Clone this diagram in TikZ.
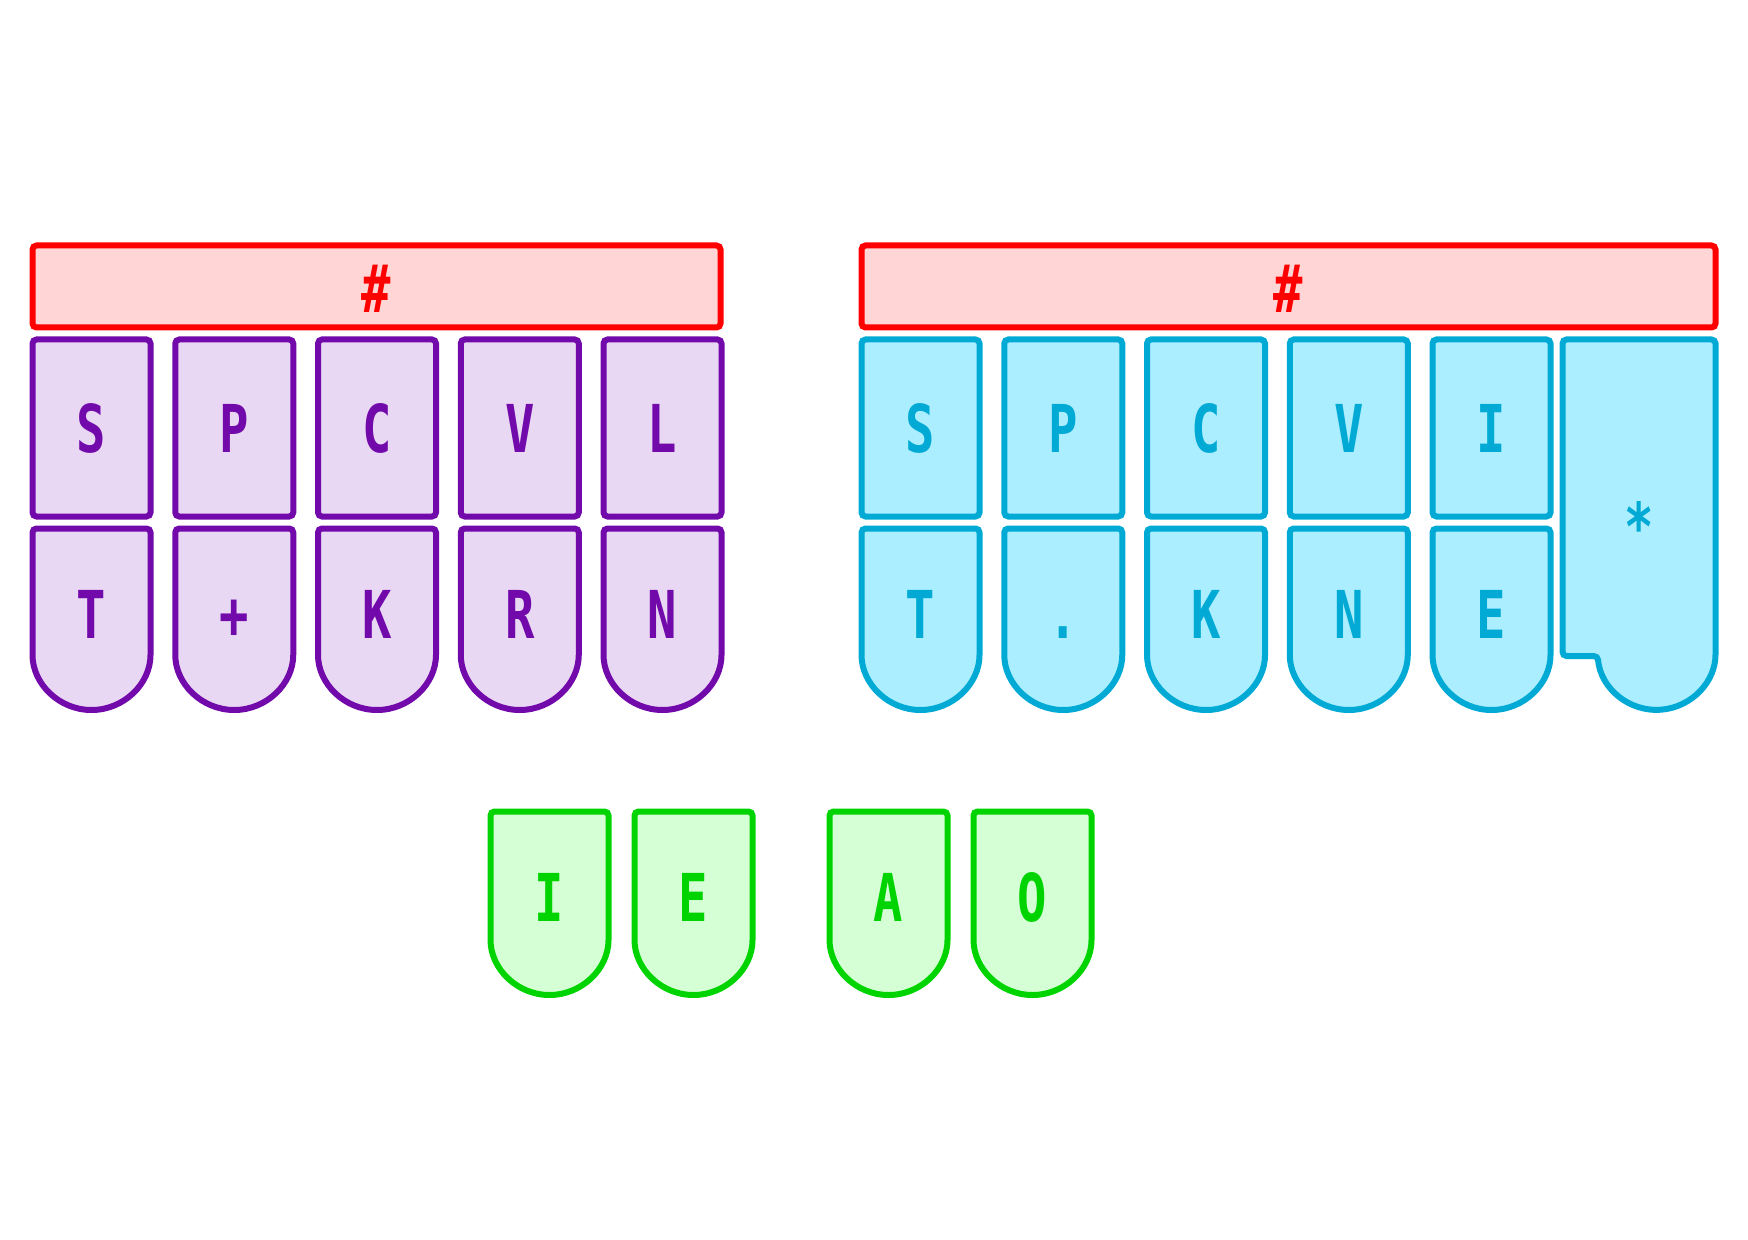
\documentclass[tikz,border=0pt]{standalone}
\usepackage{fontspec}
\newfontfamily\keyfont[FakeStretch=0.74]{DejaVu Sans Mono Bold}
\definecolor{numline}{HTML}{FF0000}
\definecolor{numfill}{HTML}{FFD5D5}
\definecolor{leftline}{HTML}{7209AA}
\definecolor{leftfill}{HTML}{E8D8F3}
\definecolor{rightline}{HTML}{00AAD4}
\definecolor{rightfill}{HTML}{AAEEFF}
\definecolor{vowelline}{HTML}{00D400}
\definecolor{vowelfill}{HTML}{D5FFD5}
\begin{document}
\begin{tikzpicture}[
  x=0.5pt,y=-0.5pt,
  keybox/.style={line width=3pt,rounded corners=2pt},
  numbar/.style={keybox,draw=numline,fill=numfill},
  lefthand/.style={keybox,draw=leftline,fill=leftfill},
  righthand/.style={keybox,draw=rightline,fill=rightfill},
  vowel/.style={keybox,draw=vowelline,fill=vowelfill},
  keylabel/.style={anchor=base,inner sep=0pt,font=\keyfont\fontsize{33}{40}\selectfont}]

  \useasboundingbox (0,0) rectangle (1748,1240);

  % Number bars
  \draw[numbar] (32.5,245.5) rectangle (720.5,327.5);
  \node[keylabel,text=numline] (numleft) at (376.5,313) {\#};
  \draw[numbar] (861.5,245.5) rectangle (1715.5,327.5);
  \node[keylabel,text=numline] (numright) at (1288.5,313) {\#};

  % Left hand, top row
  \foreach \x/\t [count=\i] in {30/S,172.75/P,315.5/C,458.25/V,601/L}{
    \draw[lefthand] (\x+2.5,339.5) rectangle (\x+120.5,516.5);
    \node[keylabel,text=leftline] (lt\i) at (\x+61.5,452.5) {\t};
  }
  % Left hand, bottom row
  \foreach \x/\t [count=\i] in {30/T,172.75/+,315.5/K,458.25/R,601/N}{
    \draw[lefthand] (\x+2.5,651) arc[start angle=180,end angle=360,radius=29.5pt]
      -- (\x+120.5,528.5) -- (\x+2.5,528.5) -- cycle;
    \node[keylabel,text=leftline] (lb\i) at (\x+61.5,638) {\t};
  }

  % Right hand, top row
  \foreach \x/\t [count=\i] in {859/S,1001.75/P,1144.5/C,1287.25/V,1430/I}{
    \draw[righthand] (\x+2.5,339.5) rectangle (\x+120.5,516.5);
    \node[keylabel,text=rightline] (rt\i) at (\x+61.5,452.5) {\t};
  }
  % Right hand, bottom row
  \foreach \x/\t [count=\i] in {859/T,1001.75/.,1144.5/K,1287.25/N,1430/E}{
    \draw[righthand] (\x+2.5,651) arc[start angle=180,end angle=360,radius=29.5pt]
      -- (\x+120.5,528.5) -- (\x+2.5,528.5) -- cycle;
    \node[keylabel,text=rightline] (rb\i) at (\x+61.5,638) {\t};
  }
  % Star key
  \draw[righthand] (1597.7,656) arc[start angle=185,end angle=360,radius=29.5pt]
    -- (1715.5,339.5) -- (1562.5,339.5) -- (1562.5,656) -- cycle;
  \node[keylabel,text=rightline] (star) at (1639,550) {*};

  % Vowels
  \foreach \x/\t [count=\i] in {488/I,632/E,827/A,971/O}{
    \draw[vowel] (\x+2.5,936) arc[start angle=180,end angle=360,radius=29.5pt]
      -- (\x+120.5,811.5) -- (\x+2.5,811.5) -- cycle;
    \node[keylabel,text=vowelline] (vw\i) at (\x+61.5,921) {\t};
  }
\end{tikzpicture}
\end{document}
